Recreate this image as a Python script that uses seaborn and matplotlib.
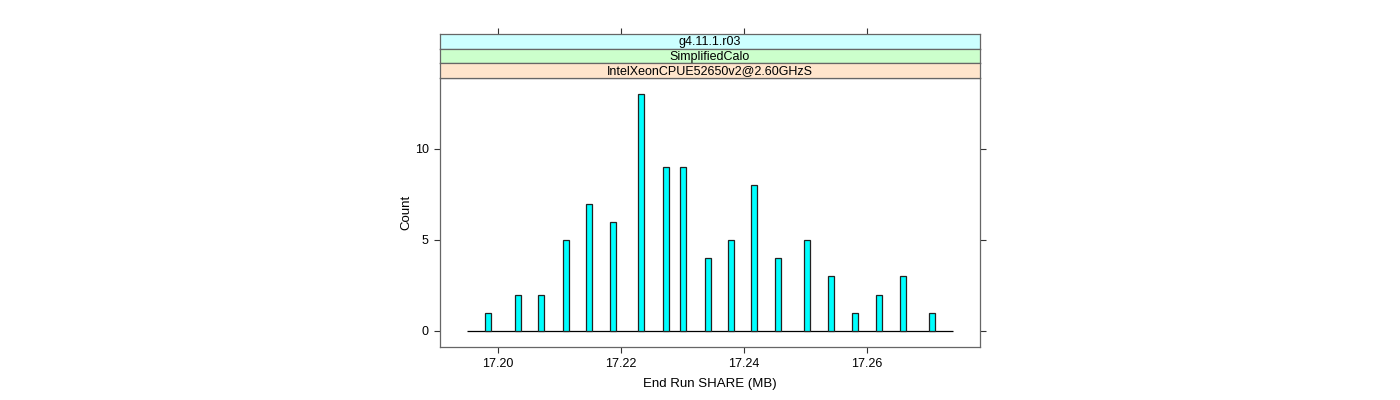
import pandas as pd
import matplotlib
matplotlib.use('Agg')
import matplotlib.pyplot as plt
import seaborn as sns

# Dados
share_mb = [17.1984, 17.2033, 17.2070, 17.2111, 17.2148, 17.2187, 17.2233,
            17.2273, 17.2301, 17.2341, 17.2379, 17.2416, 17.2455, 17.2502,
            17.2541, 17.2580, 17.2620, 17.2659, 17.2706]
contagens = [1, 2, 2, 5, 7, 6, 13, 9, 9, 4, 5, 8, 4, 5, 3, 1, 2, 3, 1]
x_ticks = [17.20, 17.22, 17.24, 17.26]
y_ticks = [0, 5, 10]
faixas = ['g4.11.1.r03', 'SimplifiedCalo', 'IntelXeonCPUE52650v2@2.60GHzS']
cores_faixas = ['#CCFFFF', '#CCFFCC', '#FFE5CC']

df = pd.DataFrame({'share': share_mb, 'count': contagens})

sns.set_style('white')
plt.rcParams['font.family'] = ['Liberation Sans', 'DejaVu Sans']
plt.rcParams['font.size'] = 9
plt.rcParams['text.color'] = 'black'
plt.rcParams['axes.labelcolor'] = 'black'
plt.rcParams['xtick.color'] = 'black'
plt.rcParams['ytick.color'] = 'black'

fig = plt.figure(figsize=(14, 4), dpi=100)
ax = fig.add_axes([440 / 1400, 1 - 347 / 400, 540 / 1400, 269 / 400])

sns.barplot(data=df, x='share', y='count', native_scale=True, width=0.36,
            color='#00FFFF', saturation=1, edgecolor='#222222', linewidth=0.9,
            ax=ax)

faixa = max(share_mb) - min(share_mb)
lo = min(share_mb) - 0.047 * faixa
hi = max(share_mb) + 0.047 * faixa
ax.hlines(0, lo, hi, color='black', linewidth=0.9, zorder=0)

ax.set_xlim(17.19057, 17.27837)
ax.set_ylim(-0.88, 13.9)
ax.set_xticks(x_ticks)
ax.set_xticklabels([f'{v:.2f}' for v in x_ticks])
ax.set_yticks(y_ticks)
ax.tick_params(axis='both', direction='out', length=4, width=0.8, color='#333333',
               labelsize=9, pad=4, labelcolor='black')
ax.tick_params(axis='y', right=True, left=True, labelleft=True, labelright=False)
ax.tick_params(axis='x', bottom=True, top=False)
for s in ax.spines.values():
    s.set_color('#666666')
    s.set_linewidth(0.9)
ax.set_xlabel('End Run SHARE (MB)', fontsize=9.5, labelpad=6, color='black')
ax.set_ylabel('Count', fontsize=9.5, labelpad=2, color='black')

# Faixas no estilo lattice
h = 14.7
for i, (texto, cor) in enumerate(zip(faixas, cores_faixas)):
    topo = 34 + i * h
    sax = fig.add_axes([440 / 1400, 1 - (topo + h) / 400, 540 / 1400, h / 400])
    sax.set_facecolor(cor)
    sax.set_xlim(ax.get_xlim())
    sax.set_yticks([])
    sax.text(0.5, 0.45, texto, transform=sax.transAxes, ha='center', va='center',
             fontsize=9, color='black')
    for s in sax.spines.values():
        s.set_color('#666666')
        s.set_linewidth(0.9)
    if i == 0:
        sax.set_xticks(x_ticks)
        sax.tick_params(axis='x', top=True, bottom=False, labeltop=False,
                        labelbottom=False, direction='out', length=4, width=0.8,
                        color='#333333')
    else:
        sax.set_xticks([])

fig.savefig('out.png', dpi=100)
